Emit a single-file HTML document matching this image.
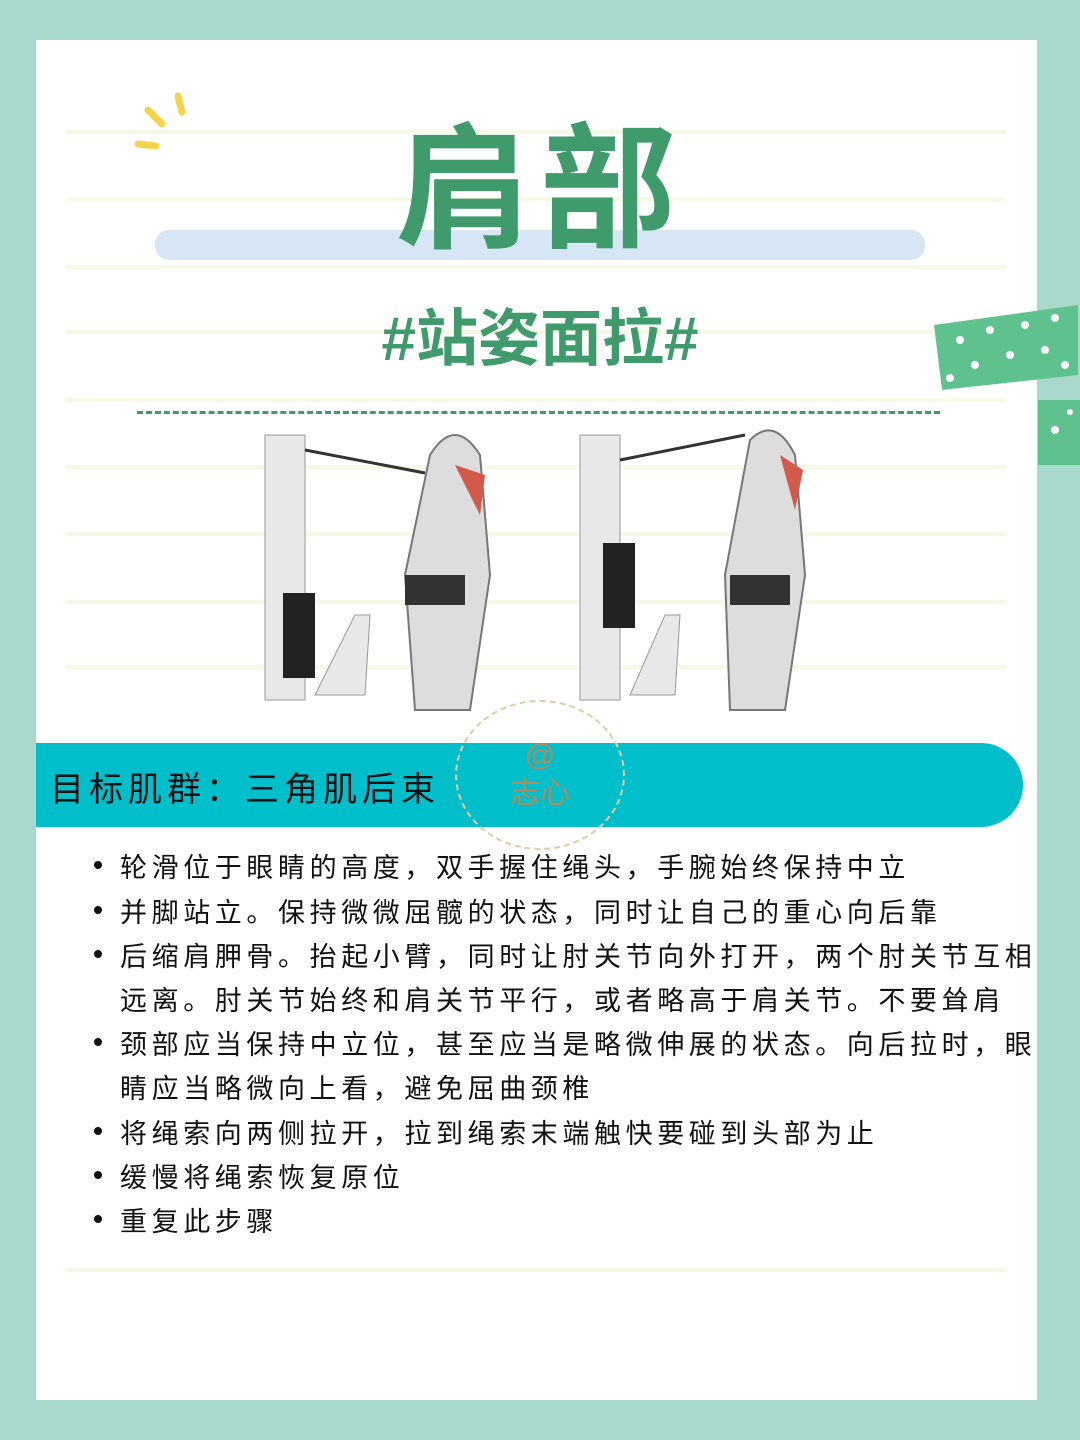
<!DOCTYPE html>
<html><head><meta charset="utf-8"><style>
body{margin:0;width:1080px;height:1440px;background:#a9d8cc;position:relative;overflow:hidden;font-family:"Liberation Sans","Noto Sans CJK SC",sans-serif}
.card{position:absolute;left:36px;top:40px;width:1001px;height:1360px;background:#fff}
.rule{position:absolute;left:66px;width:940px;height:4px;background:#f6f9e6}
.abs{position:absolute}
.bul{position:absolute;left:120px;font-size:27px;color:#111;letter-spacing:4.6px;white-space:nowrap}
.bul::before{content:"";position:absolute;left:-26px;top:15px;width:8px;height:8px;border-radius:50%;background:#111}
.nb::before{display:none}
</style></head><body>
<div class="card"></div>
<div class="rule" style="top:130px"></div>
<div class="rule" style="top:197px"></div>
<div class="rule" style="top:265px"></div>
<div class="rule" style="top:330px"></div>
<div class="rule" style="top:398px"></div>
<div class="rule" style="top:465px"></div>
<div class="rule" style="top:532px"></div>
<div class="rule" style="top:600px"></div>
<div class="rule" style="top:665px"></div>
<div class="rule" style="top:1268px"></div>
<svg class="abs" style="left:130px;top:88px" width="70" height="70"><g stroke="#f4d44a" stroke-width="7" stroke-linecap="round"><line x1="48" y1="8" x2="52" y2="24"/><line x1="18" y1="22" x2="32" y2="36"/><line x1="8" y1="56" x2="26" y2="58"/></g></svg>
<div class="abs" style="left:155px;top:230px;width:770px;height:30px;background:#d6e6f4;border-radius:14px"></div>
<div class="abs" style="left:0;width:1080px;top:100px;text-align:center;font-size:136px;font-weight:bold;color:#3f9a6c;line-height:180px;letter-spacing:8px">肩部</div>
<div class="abs" style="left:0;width:1080px;top:303px;text-align:center;font-size:62px;font-weight:bold;color:#3f9a6c;line-height:74px">#站姿面拉#</div>
<div class="abs" style="left:137px;top:411px;width:803px;border-top:3px dashed #3f9a6c"></div>
<svg class="abs" style="left:930px;top:300px" width="150" height="170"><polygon points="4,25 148,5 148,75 12,90" fill="#5fc28e"/><rect x="108" y="100" width="42" height="65" fill="#5fc28e"/><g fill="#fff"><circle cx="30" cy="40" r="4"/><circle cx="60" cy="30" r="4"/><circle cx="95" cy="25" r="4"/><circle cx="125" cy="18" r="4"/><circle cx="45" cy="65" r="4"/><circle cx="80" cy="55" r="4"/><circle cx="115" cy="50" r="4"/><circle cx="20" cy="78" r="4"/><circle cx="135" cy="65" r="4"/><circle cx="125" cy="130" r="4"/><circle cx="140" cy="112" r="3"/></g></svg>
<svg class="abs" style="left:255px;top:415px" width="560" height="305">
<g fill="#e8e8e8" stroke="#999"><rect x="10" y="20" width="40" height="265"/><rect x="325" y="20" width="40" height="265"/><path d="M60 280 L100 200 L115 200 L110 280Z"/><path d="M375 280 L410 200 L425 200 L420 280Z"/></g>
<rect x="28" y="178" width="32" height="85" fill="#222"/><rect x="348" y="128" width="32" height="85" fill="#222"/>
<line x1="50" y1="35" x2="170" y2="58" stroke="#333" stroke-width="3"/><line x1="365" y1="45" x2="490" y2="20" stroke="#333" stroke-width="3"/>
<g fill="#ddd" stroke="#777" stroke-width="2"><path d="M175 40 Q200 0 225 40 L235 160 L215 295 L160 295 L150 160Z"/><path d="M495 25 Q520 0 540 40 L550 160 L530 295 L475 295 L470 160Z"/></g>
<path d="M200 50 L230 60 L225 100Z" fill="#d35a4a"/><path d="M525 40 L548 55 L540 95Z" fill="#d35a4a"/><rect x="150" y="160" width="60" height="30" fill="#333"/><rect x="475" y="160" width="60" height="30" fill="#333"/></svg>
<svg class="abs" style="left:36px;top:743px" width="990" height="84"><path d="M0 0 H945 A42 42 0 0 1 945 84 H0Z" fill="#00bfcb"/></svg>
<div class="abs" style="left:50px;top:762px;font-size:34px;color:#111;letter-spacing:5px">目标肌群：三角肌后束</div>
<div class="abs" style="left:455px;top:700px;width:170px;height:150px;border:2px dashed #e3c9a0;border-radius:50%;text-align:center;color:#b58a5a;font-size:30px;line-height:38px;padding-top:35px;box-sizing:border-box">@<br>志心</div>
<div class="bul" style="top:846px">轮滑位于眼睛的高度，双手握住绳头，手腕始终保持中立</div>
<div class="bul" style="top:891px">并脚站立。保持微微屈髋的状态，同时让自己的重心向后靠</div>
<div class="bul" style="top:935px">后缩肩胛骨。抬起小臂，同时让肘关节向外打开，两个肘关节互相</div>
<div class="bul nb" style="top:979px">远离。肘关节始终和肩关节平行，或者略高于肩关节。不要耸肩</div>
<div class="bul" style="top:1023px">颈部应当保持中立位，甚至应当是略微伸展的状态。向后拉时，眼</div>
<div class="bul nb" style="top:1067px">睛应当略微向上看，避免屈曲颈椎</div>
<div class="bul" style="top:1112px">将绳索向两侧拉开，拉到绳索末端触快要碰到头部为止</div>
<div class="bul" style="top:1156px">缓慢将绳索恢复原位</div>
<div class="bul" style="top:1200px">重复此步骤</div>
</body></html>
